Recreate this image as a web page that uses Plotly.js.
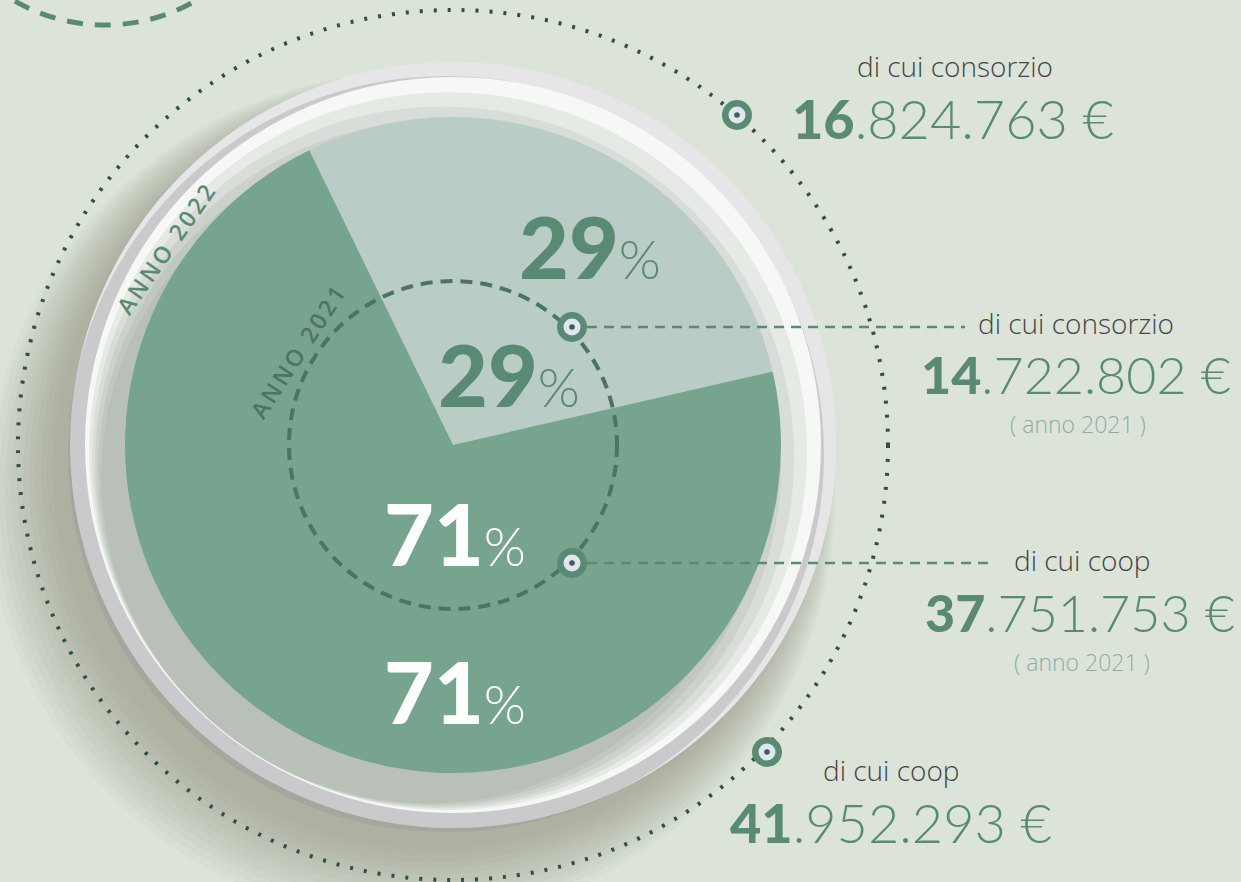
<!DOCTYPE html>
<html>
<head>
<meta charset="utf-8">
<script src="https://cdn.plot.ly/plotly-3.0.1.min.js"></script>
<style>
html,body{margin:0;padding:0;background:#dce3d9;}
#chart{width:1241px;height:882px;}
</style>
</head>
<body>
<div id="chart"></div>
<script>
// ---- data ----
var categories = ["di cui consorzio", "di cui coop"];
var values2022 = [16824763, 41952293];
var values2021 = [14722802, 37751753];
var pct2022 = [29, 71];
var pct2021 = [29, 71];
var yearLabels = ["ANNO 2022", "ANNO 2021"];
var yearNote = "( anno 2021 )";

// ---- helpers ----
function fmt(v){ return String(v).replace(/\B(?=(\d{3})+(?!\d))/g, "."); }
function money(v){
  var s = fmt(v); var head = s.split(".")[0]; var rest = s.slice(head.length);
  return "<span style='font-weight:900'>" + head + "</span><span style='font-weight:300'>" + rest + " €</span>";
}
function pct(p){ return "<span style='font-weight:900'>" + p + "</span><span style='font-weight:300;font-size:54px'>%</span>"; }
function spaced(t){ return "<span style='letter-spacing:3px'>" + t + "</span>"; }

var W = 1241, H = 882;
var cx = 453, cy = 445, R = 328;

var GREEN = "#5a8a74";
var FONT = "Lato";
var LFONT = "Open Sans";

var pie = {
  type: "pie",
  labels: categories,
  values: values2022,
  sort: false,
  direction: "clockwise",
  rotation: -26,
  marker: {colors: ["#b9cdc6", "#77a48e"], line: {width: 0}},
  textinfo: "none",
  hoverinfo: "none",
  showlegend: false,
  domain: {x: [(cx - R) / W, (cx + R) / W], y: [(H - cy - R) / H, (H - cy + R) / H]}
};

function circ(x, y, r, opts){
  var s = {type: "circle", xref: "x", yref: "y", x0: x - r, x1: x + r, y0: y - r, y1: y + r, layer: "below", line: {width: 0}};
  for (var k in opts) s[k] = opts[k];
  return s;
}

var shapes = [];
// soft shadow to lower-left
for (var i = 0; i < 12; i++) {
  shapes.push(circ(cx - 20 - i * 2, cy + 24 + i * 2.5, 380 + i * 4, {fillcolor: "rgba(105,108,98,0.045)"}));
}
// rim
shapes.push(circ(cx, cy, 383, {fillcolor: "#e6e6e8"}));
shapes.push(circ(cx - 7, cy + 9, 378, {fillcolor: "rgba(150,148,152,0.35)"}));
shapes.push(circ(cx, cy, 368, {fillcolor: "#f6f8f5"}));
for (var k = 1; k <= 5; k++) {
  var off = 8 * k, rr = 367 - off;
  shapes.push(circ(cx - off * 0.62, cy + off * 0.78, rr, {fillcolor: "rgba(120,136,124,0.13)"}));
}
// outer dotted circle
shapes.push(circ(cx, cy, 435, {layer: "above", fillcolor: "rgba(0,0,0,0)", line: {color: "#2f4f47", width: 4, dash: "3px,11px"}}));
// top-left dashed arc
shapes.push(circ(105, -157, 182, {layer: "above", fillcolor: "rgba(0,0,0,0)", line: {color: GREEN, width: 5, dash: "16px,12px"}}));
// inner dashed circle
shapes.push(circ(cx, cy, 164, {layer: "above", fillcolor: "rgba(0,0,0,0)", line: {color: "#4d7266", width: 4, dash: "12px,8px"}}));
// leader lines
shapes.push({type: "line", xref: "x", yref: "y", x0: 587, x1: 965, y0: 327, y1: 327, layer: "above", line: {color: GREEN, width: 2.5, dash: "10px,7px"}});
shapes.push({type: "line", xref: "x", yref: "y", x0: 587, x1: 993, y0: 563, y1: 563, layer: "above", line: {color: GREEN, width: 2.5, dash: "10px,7px"}});
// markers
[[737, 115], [572, 327], [572, 563], [767, 752]].forEach(function(p){
  shapes.push(circ(p[0], p[1], 15, {layer: "above", fillcolor: GREEN}));
  shapes.push(circ(p[0], p[1], 8.5, {layer: "above", fillcolor: "#dfe6ee"}));
  shapes.push(circ(p[0], p[1], 2.8, {layer: "above", fillcolor: "#3d5e54"}));
});

function ann(x, y, text, size, color, family, weight, angle){
  var f = {family: family || FONT, size: size, color: color};
  if (weight) f.weight = weight;
  var a = {xref: "x", yref: "y", x: x, y: y, text: text, showarrow: false, xanchor: "center", yanchor: "middle", font: f};
  if (angle) a.textangle = angle;
  return a;
}

var LBL = "#454545", NOTE = "#8fae9f";
var annotations = [
  // percentages
  ann(590, 245, pct(pct2022[0]), 86, GREEN),
  ann(509, 373, pct(pct2021[0]), 86, GREEN),
  ann(455, 532, pct(pct2021[1]), 86, "#ffffff"),
  ann(455, 690, pct(pct2022[1]), 86, "#ffffff"),
  // year labels
  ann(166, 248, spaced(yearLabels[0]), 23, GREEN, LFONT, 600, -55),
  ann(298, 351, spaced(yearLabels[1]), 23, "#4d7266", LFONT, 600, -57),
  // right side labels
  ann(955, 66, categories[0], 28, LBL, LFONT, 300),
  ann(953, 118, money(values2022[0]), 54, GREEN),
  ann(1076, 323, categories[0], 28, LBL, LFONT, 300),
  ann(1076, 374, money(values2021[0]), 52, GREEN),
  ann(1078, 424, yearNote, 23, NOTE, LFONT, 300),
  ann(1082, 560, categories[1], 28, LBL, LFONT, 300),
  ann(1080, 612, money(values2021[1]), 52, GREEN),
  ann(1082, 662, yearNote, 23, NOTE, LFONT, 300),
  ann(891, 770, categories[1], 28, LBL, LFONT, 300),
  ann(891, 822, money(values2022[1]), 54, GREEN)
];

var layout = {
  width: W, height: H,
  margin: {l: 0, r: 0, t: 0, b: 0, pad: 0},
  paper_bgcolor: "#dce3d9",
  plot_bgcolor: "rgba(0,0,0,0)",
  xaxis: {range: [0, W], visible: false, fixedrange: true},
  yaxis: {range: [H, 0], visible: false, fixedrange: true},
  shapes: shapes,
  annotations: annotations,
  showlegend: false
};

Plotly.newPlot("chart", [pie], layout, {displayModeBar: false, staticPlot: true});
</script>
</body>
</html>
